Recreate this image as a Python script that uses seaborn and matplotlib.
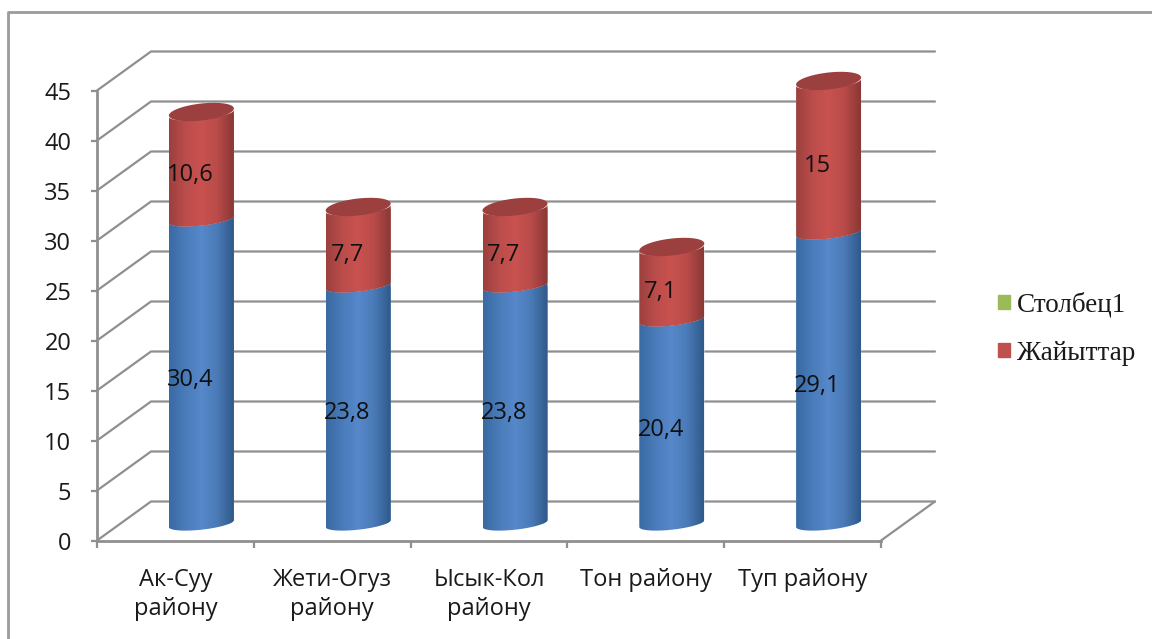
"""Stacked pseudo-3D cylinder chart of districts (pastures)."""

import numpy as np
import matplotlib
matplotlib.use("Agg")
import matplotlib.pyplot as plt
from matplotlib.colors import LinearSegmentedColormap
from matplotlib.lines import Line2D
from matplotlib.patches import Patch, Polygon
import seaborn as sns

districts = ["Ак-Суу\nрайону", "Жети-Огуз\nрайону", "Ысык-Кол\nрайону", "Тон району", "Туп району"]
lower_values = np.array([30.4, 23.8, 23.8, 20.4, 29.1])
upper_values = np.array([10.6, 7.7, 7.7, 7.1, 15])
y_ticks = [0, 5, 10, 15, 20, 25, 30, 35, 40, 45]
legend_labels = ["Столбец1", "Жайыттар"]

W, H = 1152, 639
X0, X1, Y0, Y1 = 97, 881, 540.5, 90.5   # front plane, pixels
DEPTH_X, DEPTH_Y = 54 / 156.8, 3.9      # wall depth in data units
BAR_SHIFT = (26, 17)                    # pixels from front plane to bar plane
BAR_W = 65 / 156.8
RY, TILT = 0.62, 0.35                   # cylinder ellipse, data units
BAR_FLOOR = -3                          # room under the zero line for the rounded base
GRID = "#8f8f8f"

BLUE = LinearSegmentedColormap.from_list("b", ["#3a6aa3", "#4a7cba", "#5688cb", "#4a7ab6", "#2f5a8a"])
RED = LinearSegmentedColormap.from_list("r", ["#9c403e", "#bb4d4b", "#c9524f", "#b84b49", "#8a3836"])
CAP = "#9c403f"

sns.set_theme(style="white")
plt.rcParams["font.family"] = ["Open Sans", "DejaVu Sans"]

fig = plt.figure(figsize=(W / 100, H / 100), dpi=100)

# ── walls ─────────────────────────────────────────────────────────────────
ax = fig.add_axes([X0 / W, (H - Y0) / H, (X1 - X0) / W, (Y0 - Y1) / H])
ax.set_xlim(-0.5, len(districts) - 0.5)
ax.set_ylim(0, 45)
for v in y_ticks:
    ax.plot([-0.5, -0.5 + DEPTH_X, 4.5 + DEPTH_X], [v, v + DEPTH_Y, v + DEPTH_Y],
            color=GRID, lw=1.6, clip_on=False, zorder=1)
ax.plot([4.5, 4.5 + DEPTH_X], [0, DEPTH_Y], color=GRID, lw=1.6, clip_on=False, zorder=1)

ax.set_yticks(y_ticks)
ax.set_xticks(np.arange(-0.5, 5, 1))
ax.set_xticklabels([])
ax.set_xticks(np.arange(5), labels=districts, minor=True)
ax.tick_params(axis="x", which="major", length=5, width=1.6, color=GRID, bottom=True)
ax.tick_params(axis="x", which="minor", length=0, pad=19.5, labelsize=17, labelcolor="#1a1a1a")
ax.tick_params(axis="y", length=4.5, width=1.6, color=GRID, left=True, labelsize=17,
               labelcolor="#1a1a1a", pad=14)
for label in ax.get_xticklabels(minor=True):
    label.set_linespacing(1.28)
    label.set_verticalalignment("top")
for side in ["top", "right"]:
    ax.spines[side].set_visible(False)
for side in ["left", "bottom"]:
    ax.spines[side].set_color(GRID)
    ax.spines[side].set_linewidth(2)

# ── bars ──────────────────────────────────────────────────────────────────
px_per_unit = (Y0 - Y1) / 45
ax_bars = fig.add_axes([(X0 + BAR_SHIFT[0]) / W,
                        (H - Y0 + BAR_SHIFT[1] + BAR_FLOOR * px_per_unit) / H,
                        (X1 - X0) / W,
                        (Y0 - Y1 - BAR_FLOOR * px_per_unit) / H])
ax_bars.patch.set_visible(False)
sns.barplot(x=districts, y=lower_values, color="#4f81bd", width=BAR_W, saturation=1, ax=ax_bars)
sns.barplot(x=districts, y=upper_values, bottom=lower_values, color="#c0504d", width=BAR_W,
            saturation=1, ax=ax_bars)


def front_arc(cx, y, w):
    t = np.linspace(np.pi, 2 * np.pi, 60)
    return cx + w / 2 * np.cos(t), y + RY * np.sin(t) + TILT * np.cos(t)


n = len(districts)
for i, bar in enumerate(ax_bars.patches):
    x, w = bar.get_x(), bar.get_width()
    y, h = bar.get_y(), bar.get_height()
    cx = x + w / 2
    is_upper = i >= n
    xa, ya = front_arc(cx, y, w)
    xb, yb = front_arc(cx, y + h, w)
    body = Polygon(np.column_stack([np.r_[xa, xb[::-1]], np.r_[ya, yb[::-1]]]),
                   transform=ax_bars.transData, facecolor="none", edgecolor="none")
    ax_bars.add_patch(body)
    bar.set_clip_path(body)
    ax_bars.imshow(np.linspace(0, 1, 64)[None, :], extent=(x, x + w, y - 1, y + h + 1),
                   aspect="auto", cmap=RED if is_upper else BLUE, clip_path=body,
                   zorder=3 + is_upper, interpolation="bilinear")
    if is_upper:
        t = np.linspace(0, 2 * np.pi, 120)
        cap_x = cx + w / 2 * np.cos(t)
        cap_y = y + h + 0.15 + 0.85 * np.sin(t) + 0.35 * np.cos(t)
        ax_bars.add_patch(Polygon(np.column_stack([cap_x, cap_y]), facecolor=CAP,
                                  edgecolor="none", zorder=5, clip_on=False))
    text = f"{(upper_values if is_upper else lower_values)[i % n]:g}".replace(".", ",")
    ax_bars.annotate(text, (cx, y + h / 2), xytext=(-8, -6), textcoords="offset points",
                     ha="center", va="center", fontsize=17, color="#101010", zorder=6)

ax_bars.set_xlim(-0.5, len(districts) - 0.5)
ax_bars.set_ylim(BAR_FLOOR, 45)
ax_bars.axis("off")

# ── legend ────────────────────────────────────────────────────────────────
handles = [Patch(color="#9bbb59"), Patch(color="#c0504d")]
fig.legend(handles, legend_labels, loc="center left", bbox_to_anchor=(998 / W, 1 - 329 / H),
           frameon=False, prop={"family": "Liberation Serif", "size": 19.5},
           handlelength=0.44, handleheight=0.44, handletextpad=0.27, labelspacing=0.85,
           borderpad=0, borderaxespad=0, labelcolor="#1a1a1a")

# outer frame of the pasted chart
fig.add_artist(Line2D([8 / W, 8 / W, 1], [0, 1 - 12 / H, 1 - 12 / H], color="#9a9a9a", lw=2))

fig.savefig("out.png", dpi=100)
